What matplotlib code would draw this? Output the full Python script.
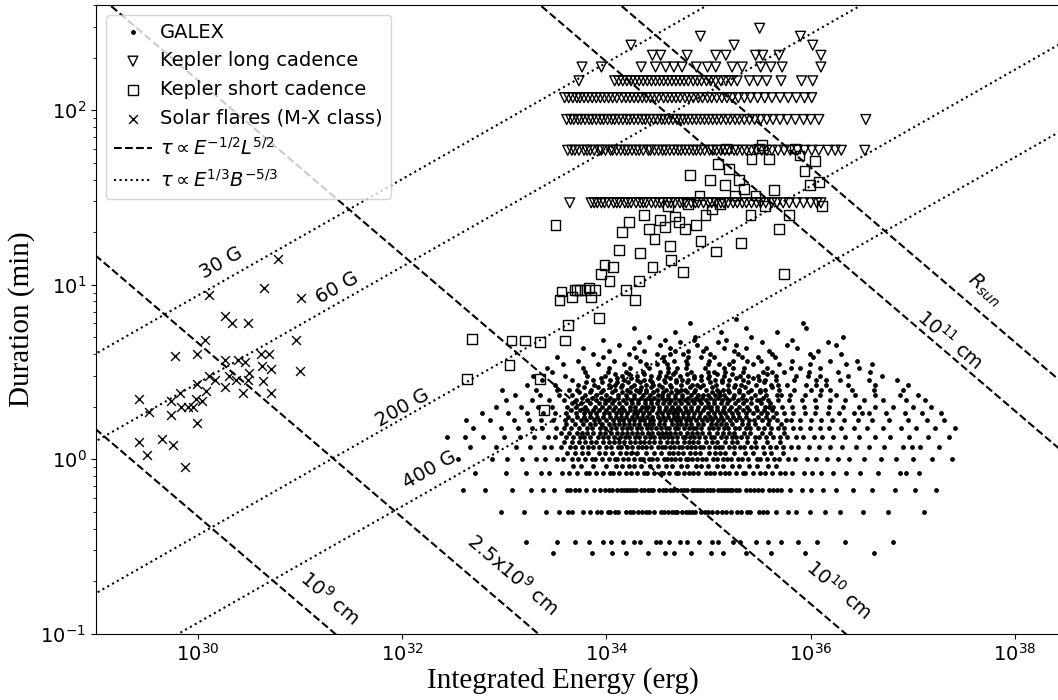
import numpy as np
import matplotlib.pyplot as plt

# ---- data (energies as log10 E [erg], durations in minutes) ----

# GALEX: one list of log10(E) per duration step
galex_tau = [0.29, 0.333, 0.5, 0.667, 0.833, 1.0, 1.167, 1.333, 1.5, 1.667,
             1.833, 2.0, 2.167, 2.333, 2.5, 2.667, 2.833, 3.0, 3.167, 3.333,
             3.5, 3.667, 3.833, 4.0, 4.167, 4.333, 4.5, 4.667, 4.833, 5.0,
             5.333, 5.667, 6.0, 6.333]
g_029 = [33.48, 33.86, 34.05, 34.19, 34.41, 34.57, 34.66, 34.83, 35.02, 35.14, 35.37,
         35.61, 35.94, 36.62]
g_033 = [33.21, 33.52, 33.69, 33.83, 33.97, 34.04, 34.16, 34.27, 34.33, 34.48, 34.52,
         34.61, 34.72, 34.79, 34.91, 35.03, 35.09, 35.24, 35.31, 35.46, 35.58, 35.71,
         35.88, 36.06, 36.34, 36.81]
g_050 = [32.97, 33.19, 33.41, 33.53, 33.62, 33.77, 33.84, 33.91, 34.01, 34.08, 34.11,
         34.19, 34.26, 34.31, 34.39, 34.42, 34.53, 34.56, 34.64, 34.69, 34.74, 34.81,
         34.87, 34.93, 34.99, 35.08, 35.13, 35.17, 35.28, 35.32, 35.41, 35.49, 35.57,
         35.66, 35.78, 35.86, 35.99, 36.14, 36.29, 36.51, 36.76, 37.11,
         33.66, 33.95, 34.03, 34.23, 34.35, 34.47, 34.6, 34.67, 34.78, 34.84, 34.96,
         35.03, 35.22, 35.38, 35.53]
g_067 = [32.59, 32.81, 33.07, 33.26, 33.38, 33.49, 33.61, 33.69, 33.73, 33.88, 33.94,
         33.99, 34.05, 34.14, 34.17, 34.23, 34.29, 34.34, 34.41, 34.46, 34.51, 34.58,
         34.62, 34.65, 34.73, 34.79, 34.84, 34.86, 34.92, 34.98, 35.04, 35.09, 35.15,
         35.21, 35.23, 35.3, 35.37, 35.44, 35.52, 35.59, 35.63, 35.71, 35.8, 35.91,
         36.0, 36.12, 36.25, 36.41, 36.6, 36.83, 37.02, 37.23,
         33.64, 33.8, 34.02, 34.1, 34.2, 34.26, 34.37, 34.44, 34.55, 34.69, 34.76,
         34.89, 34.95, 35.01, 35.12, 35.18, 35.27, 35.41, 35.48, 35.67]
g_083 = [32.71, 33.02, 33.21, 33.36, 33.44, 33.56, 33.63, 33.71, 33.8, 33.83, 33.9,
         33.97, 34.03, 34.06, 34.12, 34.19, 34.24, 34.3, 34.37, 34.4, 34.47, 34.53,
         34.55, 34.61, 34.68, 34.7, 34.76, 34.81, 34.85, 34.9, 34.97, 35.01, 35.05,
         35.11, 35.16, 35.2, 35.27, 35.34, 35.36, 35.43, 35.5, 35.55, 35.62, 35.7,
         35.75, 35.82, 35.93, 36.01, 36.1, 36.22, 36.35, 36.48, 36.66, 36.87, 37.06,
         36.93]
g_100 = [32.55, 32.88, 33.03, 33.17, 33.31, 33.4, 33.52, 33.57, 33.66, 33.72, 33.79,
         33.86, 33.89, 33.96, 34.02, 34.08, 34.1, 34.16, 34.21, 34.27, 34.33, 34.36,
         34.42, 34.45, 34.49, 34.56, 34.59, 34.63, 34.67, 34.72, 34.78, 34.8, 34.84,
         34.89, 34.94, 34.97, 35.04, 35.08, 35.14, 35.18, 35.22, 35.29, 35.33, 35.39,
         35.47, 35.5, 35.57, 35.64, 35.69, 35.78, 35.85, 35.96, 36.05, 36.16, 36.27,
         36.38, 36.52, 36.69, 36.84, 37.0, 37.19, 37.38]
g_117 = [32.66, 32.92, 33.11, 33.25, 33.39, 33.46, 33.55, 33.64, 33.69, 33.76, 33.82,
         33.87, 33.93, 34.0, 34.04, 34.11, 34.14, 34.2, 34.25, 34.31, 34.35, 34.39,
         34.44, 34.5, 34.54, 34.57, 34.62, 34.66, 34.71, 34.74, 34.79, 34.83, 34.87,
         34.92, 34.95, 35.0, 35.06, 35.1, 35.13, 35.2, 35.25, 35.31, 35.35, 35.42,
         35.46, 35.53, 35.6, 35.66, 35.73, 35.81, 35.88, 35.98, 36.08, 36.19, 36.31,
         36.44, 36.57, 36.72, 36.9, 37.07, 37.26, 36.99]
g_133 = [32.61, 32.79, 33.0, 33.15, 33.29, 33.43, 33.5, 33.6, 33.67, 33.74, 33.78,
         33.84, 33.92, 33.97, 34.01, 34.07, 34.13, 34.18, 34.22, 34.28, 34.32, 34.38,
         34.43, 34.47, 34.52, 34.56, 34.6, 34.64, 34.69, 34.75, 34.77, 34.82, 34.86,
         34.91, 34.96, 35.02, 35.05, 35.12, 35.17, 35.23, 35.27, 35.32, 35.38, 35.45,
         35.49, 35.56, 35.63, 35.7, 35.77, 35.86, 35.92, 36.03, 36.11, 36.22, 36.34,
         36.47, 36.63, 36.78, 36.96, 37.15, 37.35, 32.44]
g_150 = [32.69, 32.97, 33.13, 33.27, 33.37, 33.51, 33.58, 33.65, 33.73, 33.81, 33.86,
         33.94, 33.99, 34.04, 34.09, 34.15, 34.2, 34.24, 34.3, 34.34, 34.4, 34.44,
         34.48, 34.53, 34.58, 34.61, 34.67, 34.7, 34.76, 34.81, 34.85, 34.88, 34.93,
         35.0, 35.04, 35.09, 35.15, 35.19, 35.26, 35.3, 35.37, 35.41, 35.48, 35.54,
         35.61, 35.68, 35.74, 35.83, 35.9, 35.99, 36.09, 36.18, 36.3, 36.42, 36.55,
         36.71, 36.88, 37.03, 37.22, 37.41]
g_167 = [32.86, 33.09, 33.24, 33.36, 33.48, 33.59, 33.66, 33.75, 33.8, 33.88, 33.93,
         34.0, 34.06, 34.12, 34.16, 34.22, 34.27, 34.33, 34.37, 34.43, 34.46, 34.52,
         34.57, 34.63, 34.68, 34.72, 34.78, 34.82, 34.88, 34.94, 34.98, 35.03, 35.09,
         35.14, 35.21, 35.27, 35.33, 35.4, 35.44, 35.52, 35.59, 35.67, 35.76, 35.81,
         35.9, 36.0, 36.1, 36.21, 36.33, 36.46, 36.6, 36.77, 36.95, 37.14, 37.31, 32.62]
g_183 = [32.78, 33.04, 33.22, 33.38, 33.5, 33.6, 33.7, 33.78, 33.84, 33.9, 33.98,
         34.02, 34.09, 34.14, 34.2, 34.27, 34.3, 34.36, 34.42, 34.49, 34.54, 34.6,
         34.65, 34.69, 34.75, 34.8, 34.86, 34.92, 34.99, 35.05, 35.11, 35.16, 35.23,
         35.29, 35.37, 35.43, 35.51, 35.57, 35.66, 35.74, 35.83, 35.94, 36.04, 36.17,
         36.28, 36.42, 36.57, 36.74, 36.92, 37.09, 37.28, 36.5]
g_200 = [32.92, 33.16, 33.33, 33.47, 33.61, 33.7, 33.79, 33.89, 33.96, 34.02, 34.08,
         34.15, 34.23, 34.28, 34.35, 34.41, 34.46, 34.51, 34.58, 34.64, 34.7, 34.77,
         34.83, 34.9, 34.96, 35.02, 35.08, 35.15, 35.22, 35.3, 35.38, 35.46, 35.55,
         35.63, 35.72, 35.82, 35.93, 36.05, 36.18, 36.32, 36.47, 36.63, 36.81, 37.0,
         37.18, 34.39, 34.99, 35.59]
g_217 = [33.02, 33.27, 33.44, 33.58, 33.7, 33.81, 33.9, 33.99, 34.07, 34.16, 34.24,
         34.31, 34.38, 34.44, 34.5, 34.57, 34.63, 34.71, 34.77, 34.84, 34.91, 34.97,
         35.05, 35.13, 35.2, 35.29, 35.37, 35.47, 35.58, 35.68, 35.79, 35.91, 36.04,
         36.19, 36.34, 36.52, 36.71, 36.93, 37.12, 34.01, 34.86, 35.5]
g_233 = [33.1, 33.35, 33.53, 33.66, 33.79, 33.9, 34.0, 34.11, 34.19, 34.27, 34.36,
         34.43, 34.5, 34.6, 34.67, 34.74, 34.83, 34.9, 34.99, 35.06, 35.15, 35.25,
         35.34, 35.45, 35.56, 35.67, 35.8, 35.94, 36.09, 36.25, 36.43, 36.63, 36.87,
         37.05, 34.54, 35.11, 35.71, 34.95]
g_250 = [32.98, 33.31, 33.52, 33.71, 33.85, 33.97, 34.08, 34.2, 34.29, 34.39, 34.49,
         34.58, 34.68, 34.77, 34.87, 34.97, 35.08, 35.19, 35.3, 35.42, 35.55, 35.69,
         35.84, 36.0, 36.19, 36.4, 36.62, 36.9, 34.33, 34.73, 35.14, 35.5, 36.1, 33.63]
g_267 = [33.22, 33.5, 33.72, 33.88, 34.02, 34.15, 34.27, 34.39, 34.51, 34.62, 34.73,
         34.84, 34.95, 35.07, 35.19, 35.32, 35.46, 35.61, 35.77, 35.95, 36.15, 36.37,
         36.63, 36.95, 34.46, 34.89, 35.26, 35.68, 34.08, 36.05]
g_283 = [33.37, 33.66, 33.87, 34.03, 34.17, 34.3, 34.43, 34.56, 34.68, 34.8, 34.93,
         35.06, 35.2, 35.34, 35.49, 35.66, 35.84, 36.05, 36.29, 36.57, 36.85, 34.37,
         34.74, 35.13, 35.55, 36.15]
g_300 = [33.28, 33.59, 33.81, 33.99, 34.15, 34.3, 34.44, 34.58, 34.72, 34.86, 35.0,
         35.15, 35.31, 35.48, 35.66, 35.86, 36.09, 36.37, 36.7, 34.51, 34.93, 35.39, 35.97]
g_317 = [33.47, 33.79, 34.01, 34.19, 34.36, 34.52, 34.67, 34.83, 34.99, 35.16, 35.34,
         35.53, 35.74, 35.98, 36.27, 36.58, 34.6, 35.05, 35.62]
g_333 = [33.42, 33.77, 34.02, 34.23, 34.42, 34.6, 34.78, 34.96, 35.15, 35.35, 35.57,
         35.81, 36.09, 36.47, 34.69, 35.24, 35.9]
g_350 = [33.57, 33.92, 34.17, 34.39, 34.59, 34.79, 34.99, 35.2, 35.43, 35.69, 35.99,
         36.35, 34.49, 35.1, 36.6]
g_367 = [33.72, 34.07, 34.33, 34.56, 34.78, 35.0, 35.24, 35.51, 35.82, 36.19, 34.66,
         35.38, 36.45]
g_383 = [33.52, 33.97, 34.29, 34.55, 34.8, 35.05, 35.33, 35.65, 36.02, 34.93, 35.48]
g_400 = [33.87, 34.22, 34.49, 34.75, 35.01, 35.29, 35.62, 35.99, 34.62, 36.3]
g_417 = [34.02, 34.37, 34.67, 34.95, 35.25, 35.59, 36.07, 34.8]
g_433 = [33.77, 34.27, 34.62, 34.97, 35.37, 35.87, 35.15]
g_450 = [34.12, 34.52, 34.89, 35.27, 35.77, 36.25]
g_467 = [34.32, 34.72, 35.09, 35.52, 36.17]
g_483 = [33.97, 34.57, 35.17, 35.82, 34.86]
g_500 = [34.42, 34.87, 35.42, 36.32]
g_533 = [34.67, 35.12, 35.67]
g_567 = [34.27, 35.37, 35.95]
g_600 = [34.82, 35.92]
g_633 = [35.27]

# GALEX core: extra flares between the 10 s steps, where the cloud is densest
core_tau = [0.917, 1.083, 1.25, 1.417, 1.583, 1.75, 1.917, 2.083, 2.25, 2.417,
            2.583, 2.75, 2.917, 3.083]
c_092 = [33.67, 33.75, 33.87, 34.0, 34.09, 34.15, 34.22, 34.27, 34.34, 34.43, 34.5,
         34.58, 34.64, 34.73, 34.79, 34.88, 34.93, 34.99, 35.08, 35.14, 35.23, 35.3,
         35.4, 35.47, 35.58, 35.66]
c_108 = [33.61, 33.69, 33.76, 33.82, 33.93, 33.99, 34.05, 34.13, 34.19, 34.24, 34.3,
         34.39, 34.47, 34.53, 34.61, 34.65, 34.7, 34.75, 34.82, 34.87, 34.92, 35.0,
         35.06, 35.11, 35.16, 35.25, 35.36, 35.43, 35.54, 35.61, 35.73]
c_125 = [33.58, 33.66, 33.73, 33.79, 33.85, 33.9, 33.97, 34.02, 34.07, 34.12, 34.17,
         34.23, 34.28, 34.33, 34.37, 34.42, 34.47, 34.52, 34.59, 34.64, 34.69, 34.76,
         34.81, 34.85, 34.9, 34.97, 35.03, 35.08, 35.16, 35.23, 35.28, 35.38, 35.45,
         35.57, 35.7]
c_142 = [33.55, 33.63, 33.71, 33.76, 33.81, 33.87, 33.94, 33.99, 34.04, 34.1, 34.15,
         34.2, 34.25, 34.3, 34.35, 34.41, 34.45, 34.5, 34.54, 34.58, 34.62, 34.67,
         34.72, 34.79, 34.84, 34.89, 34.94, 35.0, 35.08, 35.14, 35.2, 35.25, 35.35,
         35.41, 35.52, 35.6, 35.74]
c_158 = [33.6, 33.69, 33.77, 33.84, 33.89, 33.96, 34.02, 34.07, 34.12, 34.17, 34.22,
         34.27, 34.32, 34.38, 34.42, 34.46, 34.51, 34.56, 34.64, 34.69, 34.73, 34.78,
         34.83, 34.9, 34.95, 35.02, 35.07, 35.12, 35.17, 35.23, 35.33, 35.39, 35.45,
         35.58, 35.71]
c_175 = [33.62, 33.71, 33.78, 33.84, 33.91, 33.97, 34.03, 34.09, 34.14, 34.19, 34.25,
         34.3, 34.35, 34.4, 34.45, 34.5, 34.55, 34.6, 34.66, 34.7, 34.75, 34.8, 34.85,
         34.91, 34.96, 35.01, 35.06, 35.12, 35.18, 35.24, 35.3, 35.37, 35.48, 35.56,
         35.63]
c_192 = [33.65, 33.74, 33.81, 33.87, 33.93, 34.0, 34.06, 34.12, 34.17, 34.23, 34.28,
         34.33, 34.39, 34.45, 34.51, 34.57, 34.62, 34.67, 34.72, 34.78, 34.83, 34.89,
         34.95, 35.02, 35.08, 35.14, 35.2, 35.27, 35.34, 35.4, 35.47, 35.54, 35.62]
c_208 = [33.66, 33.75, 33.84, 33.93, 33.99, 34.05, 34.12, 34.19, 34.25, 34.31, 34.38,
         34.44, 34.49, 34.55, 34.61, 34.67, 34.73, 34.8, 34.86, 34.93, 34.99, 35.05,
         35.12, 35.18, 35.26, 35.34, 35.42, 35.51, 35.6]
c_225 = [33.76, 33.86, 33.95, 34.03, 34.11, 34.2, 34.27, 34.34, 34.41, 34.47, 34.54,
         34.6, 34.67, 34.74, 34.8, 34.88, 34.94, 35.01, 35.09, 35.17, 35.24, 35.33,
         35.42, 35.53]
c_242 = [33.73, 33.84, 33.95, 34.05, 34.15, 34.23, 34.32, 34.39, 34.46, 34.55, 34.63,
         34.7, 34.79, 34.86, 35.03, 35.1, 35.2, 35.3, 35.39, 35.5]
c_258 = [33.78, 33.92, 34.03, 34.14, 34.24, 34.34, 34.44, 34.54, 34.63, 34.82, 34.92,
         35.03, 35.25, 35.36, 35.62]
c_275 = [33.8, 33.96, 34.1, 34.21, 34.33, 34.45, 34.57, 34.68, 34.79, 35.01, 35.13,
         35.39, 35.54]
c_292 = [33.95, 34.1, 34.24, 34.5, 34.62, 34.86, 34.99, 35.27, 35.43]
c_308 = [34.08, 34.22, 34.37, 34.65, 34.79, 35.08, 35.23, 35.57]

galex_rows = [g_029, g_033, g_050, g_067, g_083, g_100, g_117, g_133, g_150, g_167,
              g_183, g_200, g_217, g_233, g_250, g_267, g_283, g_300, g_317, g_333,
              g_350, g_367, g_383, g_400, g_417, g_433, g_450, g_467, g_483, g_500,
              g_533, g_567, g_600, g_633]
core_rows = [c_092, c_108, c_125, c_142, c_158, c_175, c_192, c_208, c_225, c_242,
             c_258, c_275, c_292, c_308]

# Kepler long cadence: durations are multiples of the 29.4 min cadence
kl_tau = [29.4, 58.8, 88.3, 117.7, 147.1, 176.5, 206.0, 235.4, 264.8, 294.2]
kl_1 = [33.64, 33.85, 33.88, 33.91, 33.95, 33.98, 34.02, 34.07, 34.1, 34.13, 34.18,
        34.21, 34.24, 34.29, 34.33, 34.36, 34.39, 34.44, 34.48, 34.52, 34.55, 34.6,
        34.63, 34.67, 34.72, 34.75, 34.78, 34.83, 34.87, 34.9, 34.95, 35.0, 35.03,
        35.07, 35.12, 35.15, 35.19, 35.24, 35.28, 35.33, 35.37, 35.42, 35.47, 35.51,
        35.56, 35.62, 35.67, 35.73, 35.79, 35.86, 35.93, 36.0, 36.06, 36.1]
kl_2 = [33.62, 33.66, 33.69, 33.73, 33.78, 33.81, 33.84, 33.88, 33.93, 33.95, 33.99,
        34.04, 34.06, 34.1, 34.14, 34.18, 34.21, 34.25, 34.29, 34.32, 34.36, 34.41,
        34.43, 34.47, 34.51, 34.55, 34.58, 34.62, 34.66, 34.7, 34.73, 34.77, 34.81,
        34.85, 34.88, 34.92, 34.96, 35.01, 35.04, 35.08, 35.12, 35.16, 35.2, 35.25,
        35.28, 35.33, 35.37, 35.42, 35.47, 35.52, 35.57, 35.62, 35.68, 35.74, 35.8,
        35.87, 35.94, 36.01, 36.08, 36.17, 36.24, 36.3, 36.53]
kl_3 = [33.61, 33.65, 33.68, 33.72, 33.75, 33.79, 33.83, 33.86, 33.9, 33.94, 33.97,
        34.01, 34.05, 34.08, 34.12, 34.16, 34.2, 34.23, 34.27, 34.31, 34.35, 34.38,
        34.42, 34.46, 34.5, 34.54, 34.57, 34.61, 34.65, 34.69, 34.73, 34.76, 34.8,
        34.84, 34.88, 34.92, 34.96, 35.0, 35.04, 35.08, 35.12, 35.17, 35.21, 35.26,
        35.3, 35.35, 35.4, 35.45, 35.51, 35.57, 35.63, 35.7, 35.77, 35.85, 35.93,
        36.0, 36.08, 36.54]
kl_4 = [33.59, 33.63, 33.67, 33.71, 33.74, 33.78, 33.82, 33.86, 33.9, 33.94, 33.98,
        34.02, 34.06, 34.1, 34.15, 34.19, 34.23, 34.27, 34.31, 34.35, 34.39, 34.43,
        34.47, 34.51, 34.56, 34.6, 34.64, 34.68, 34.72, 34.77, 34.81, 34.85, 34.9,
        34.94, 34.99, 35.03, 35.08, 35.13, 35.18, 35.23, 35.29, 35.35, 35.41, 35.48,
        35.55, 35.62, 35.7, 35.78, 35.86, 35.94, 36.01]
kl_5 = [33.73, 34.08, 34.12, 34.16, 34.2, 34.24, 34.28, 34.32, 34.36, 34.4, 34.44,
        34.48, 34.52, 34.56, 34.6, 34.64, 34.68, 34.72, 34.76, 34.8, 34.85, 34.89,
        34.93, 34.98, 35.02, 35.07, 35.12, 35.17, 35.22, 35.28, 35.4, 35.48, 35.57,
        35.71, 35.91, 36.02]
kl_6 = [33.76, 33.95, 34.34, 34.48, 34.58, 34.66, 34.74, 34.88, 34.99, 35.07, 35.23,
        35.33, 35.51, 35.61, 35.72, 36.1]
kl_7 = [34.45, 34.53, 34.79, 35.07, 35.17, 35.46, 35.53, 35.69, 36.1]
kl_8 = [34.24, 35.25, 36.02]
kl_9 = [34.92, 35.9]
kl_10 = [35.5]
kl_rows = [kl_1, kl_2, kl_3, kl_4, kl_5, kl_6, kl_7, kl_8, kl_9, kl_10]

# Kepler short cadence (log10 E, log10 tau)
ks_logE = [32.63, 32.68, 33.05, 33.07, 33.2, 33.35, 33.35, 33.39, 33.5, 33.54, 33.56,
           33.59, 33.62, 33.66, 33.69, 33.71, 33.74, 33.79, 33.83, 33.85, 33.89, 33.93,
           33.95, 33.98, 34.03, 34.06, 34.12, 34.15, 34.19, 34.22, 34.28, 34.32, 34.33,
           34.37, 34.42, 34.45, 34.47, 34.52, 34.57, 34.6, 34.62, 34.63, 34.67, 34.71,
           34.75, 34.77, 34.8, 34.82, 34.88, 34.91, 34.92, 34.97, 35.01, 35.03, 35.07,
           35.09, 35.11, 35.16, 35.17, 35.2, 35.26, 35.3, 35.32, 35.35, 35.41, 35.42,
           35.46, 35.49, 35.52, 35.55, 35.59, 35.64, 35.69, 35.74, 35.79, 35.85, 35.89,
           35.94, 35.99, 36.04, 36.08, 36.11]
ks_logT = [0.46, 0.69, 0.54, 0.68, 0.68, 0.67, 0.46, 0.28, 1.34, 0.91, 0.96,
           0.68, 0.77, 0.93, 0.97, 0.97, 0.97, 0.97, 0.98, 0.93, 0.97, 0.81,
           1.06, 1.11, 1.02, 1.1, 1.2, 1.3, 0.97, 1.36, 0.91, 1.02, 1.18,
           1.4, 1.32, 1.1, 1.26, 1.37, 1.33, 1.45, 1.22, 1.14, 1.39, 1.36,
           1.07, 1.32, 1.46, 1.63, 1.34, 1.51, 1.25, 1.4, 1.6, 1.43, 1.19,
           1.69, 1.46, 1.57, 1.78, 1.66, 1.51, 1.6, 1.24, 1.55, 1.4, 1.72,
           1.51, 1.78, 1.8, 1.45, 1.72, 1.54, 1.32, 1.06, 1.4, 1.78, 1.74,
           1.65, 1.57, 1.71, 1.59, 1.45]

# solar M-X class flares (log10 E, tau in min)
sun_logE = [30.78, 30.65, 30.11, 31.01, 30.26, 30.33, 30.49, 30.07, 30.96, 29.77,
            29.99, 30.26, 30.39, 30.46, 30.62, 30.69, 30.63, 30.71, 31.0, 30.5,
            30.3, 30.11, 30.17, 30.37, 30.49, 29.99, 30.26, 30.64, 30.08, 30.44,
            30.71, 29.82, 29.42, 29.73, 29.98, 30.04, 29.52, 29.73, 29.83, 29.9,
            29.95, 29.99, 29.42, 29.65, 29.75, 29.5, 29.87]
sun_tau = [14.0, 9.5, 8.7, 8.4, 6.6, 6.0, 6.0, 4.8, 4.8, 3.9,
           4.0, 3.7, 3.7, 3.6, 4.0, 4.0, 3.4, 3.3, 3.2, 3.1,
           3.0, 3.0, 2.85, 2.85, 2.85, 2.7, 2.6, 2.8, 2.45, 2.4,
           2.4, 2.4, 2.2, 2.15, 2.2, 2.15, 1.85, 1.8, 2.0, 2.0,
           2.0, 1.6, 1.25, 1.3, 1.2, 1.05, 0.9]

# scaling-law curves: tau = c_L E^-1/2 L^5/2 and tau = c_B E^1/3 B^-5/3
loop_L = [1e9, 2.5e9, 1e10, 6.96e10, 1e11]
field_B = [30, 60, 200, 400]
c_L = 10**-7.83
c_B = 10**-6.6

# ---- plot ----
fig = plt.figure(figsize=(10.58, 7.0), dpi=100)
ax = fig.add_axes([96/1058, 66.4/700, 1021/1058, 628.6/700])

all_tau = galex_tau + core_tau
all_rows = galex_rows + core_rows
gx = [e for row in all_rows for e in row]
gy = [t for t, row in zip(all_tau, all_rows) for e in row]
ax.scatter(10**np.array(gx), gy, s=12, c='k', marker='o', lw=0, label='GALEX')

kx = [e for row in kl_rows for e in row]
ky = [t for t, row in zip(kl_tau, kl_rows) for e in row]
ax.scatter(10**np.array(kx), ky, s=50, marker='v', facecolors='none',
           edgecolors='k', lw=1.0, label='Kepler long cadence')
ax.scatter(10**np.array(ks_logE), 10**np.array(ks_logT), s=50, marker='s',
           facecolors='none', edgecolors='k', lw=1.0, label='Kepler short cadence')
ax.scatter(10**np.array(sun_logE), sun_tau, s=40, marker='x', c='k', lw=1.0,
           label='Solar flares (M-X class)')

E = np.logspace(28.5, 39.5, 100)
for i, L in enumerate(loop_L):
    ax.plot(E, c_L * E**-0.5 * L**2.5, 'k--', lw=1.5,
            label=r'$\tau \propto E^{-1/2}L^{5/2}$' if i == 0 else None)
for i, B in enumerate(field_B):
    ax.plot(E, c_B * E**(1/3) * B**(-5/3), 'k:', lw=1.5,
            label=r'$\tau \propto E^{1/3}B^{-5/3}$' if i == 0 else None)

ax.set_xscale('log')
ax.set_yscale('log')
ax.set_xlim(1e29, 1e39)
ax.set_ylim(0.1, 400)
ax.xaxis.set_minor_locator(plt.NullLocator())
ax.tick_params(labelsize=14)

# line labels
rot_B, rot_L = 29.6, -40.5
for txt, x, y in [('30 G', 30.23, 1.126), ('60 G', 31.36, 0.983),
                  ('200 G', 32.0, 0.295), ('400 G', 32.27, -0.061)]:
    ax.text(10**x, 10**y, txt, rotation=rot_B, fontsize=14, ha='center',
            va='center', rotation_mode='anchor')
for txt, x, y in [(r'$10^9$ cm', 31.29, -0.795), (r'2.5x$10^9$ cm', 33.08, -0.664),
                  (r'$10^{10}$ cm', 36.28, -0.75), (r'$10^{11}$ cm', 37.36, 0.685),
                  (r'$R_{sun}$', 37.7, 0.972)]:
    ax.text(10**x, 10**y, txt, rotation=rot_L, fontsize=14, ha='center',
            va='center', rotation_mode='anchor')

ax.legend(loc='upper left', fontsize=14, handletextpad=0.4)
ax.set_xlabel('Integrated Energy (erg)', family='Liberation Serif', fontsize=21)
ax.set_ylabel('Duration (min)', family='Liberation Serif', fontsize=21)
ax.xaxis.set_label_coords(0.457, -0.054)

fig.savefig('out.png', dpi=100)
